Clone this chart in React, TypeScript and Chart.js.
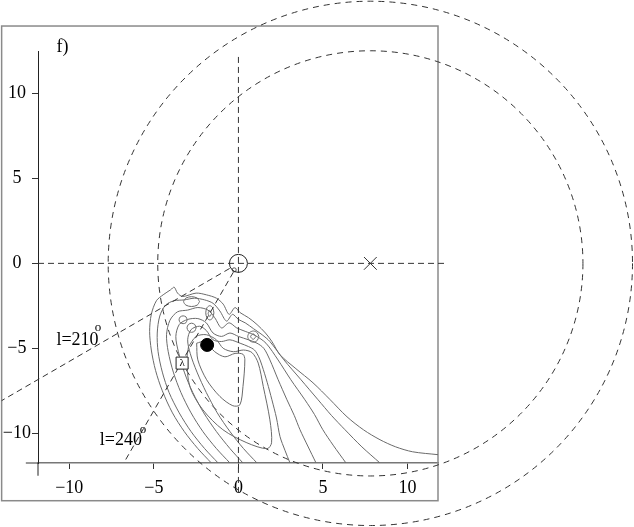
import React, { useEffect, useRef } from 'react';
import { Chart, registerables } from 'chart.js';
Chart.register(...registerables);

const FONT = '"Liberation Serif", "Times New Roman", serif';

const xTicks = [-10, -5, 0, 5, 10];
const yTicks = [-10, -5, 0, 5, 10];
const xRange = [-11.85, 11.8];
const yRange = [-11.75, 12.5];

// outer frame (data units)
const frameBox = { xMin: -14.0, xMax: 11.8, yMin: -13.97, yMax: 13.97 };
// axis line extensions
const xAxisLeftEnd = -12.57;
const yAxisBottomEnd = -12.5;

// dashed circles
const circleCenter = [7.8, 0];
const circleRadii = [15.5, 12.57];

// dashed guide lines
const hLine = [[-11.85, 0], [12.2, 0]];
const vLine = [[0, 12.15], [0, -13.6]];
const ray210 = [[-0.52, -0.3], [-14.0, -8.08]];
const ray240 = [[-0.3, -0.52], [-6.78, -11.75]];

// markers
const originPt = [[0, 0]];
const originInner = [[-0.25, -0.38]];
const dotPt = [[-1.85, -4.8]];
const lambdaPt = [[-3.33, -5.87]];
const crossPt = [[7.8, 0]];

// contours
const arch1 = [[-1.6,-11.75],[-2.4,-10.9],[-3.2,-9.9],[-3.9,-8.8],[-4.5,-7.5],[-4.9,-6.3],[-5.15,-5.1],[-5.25,-4.0],[-5.15,-3.0],[-4.85,-2.2],[-4.45,-1.85],[-4.0,-1.55],[-3.8,-1.4],[-3.6,-1.75],[-3.3,-1.95],[-2.5,-1.75],[-1.9,-1.85],[-1.3,-2.05],[-0.9,-2.4],[-0.55,-3.0],[-0.2,-2.6],[0.1,-2.9],[0.6,-3.2],[1.1,-3.6],[1.6,-4.1],[1.98,-4.6],[2.46,-5.38],[3.4,-6.2],[4.41,-7.03],[5.4,-8.0],[6.42,-9.03],[7.4,-9.8],[8.37,-10.38],[9.3,-10.8],[10.3,-11.09],[11.8,-11.26]];
const arch2 = [[-1.2,-11.75],[-2.0,-10.9],[-2.8,-9.9],[-3.5,-8.8],[-4.1,-7.6],[-4.5,-6.4],[-4.75,-5.2],[-4.8,-4.1],[-4.65,-3.1],[-4.3,-2.45],[-3.8,-2.2],[-3.2,-2.15],[-2.6,-2.05],[-2.0,-2.15],[-1.5,-2.35],[-1.1,-2.8],[-0.7,-3.4],[-0.35,-3.0],[0.0,-3.3],[0.4,-3.5],[0.9,-3.85],[1.4,-4.2],[1.86,-4.6],[2.69,-5.68],[3.7,-6.85],[4.71,-8.03],[5.5,-8.95],[6.3,-9.79],[7.3,-10.8],[8.37,-11.75]];
const arch3 = [[-0.5,-11.75],[-1.3,-10.9],[-2.1,-9.9],[-2.8,-8.8],[-3.4,-7.6],[-3.85,-6.4],[-4.15,-5.2],[-4.25,-4.2],[-4.05,-3.35],[-3.6,-2.85],[-3.0,-2.75],[-2.4,-2.6],[-1.8,-2.75],[-1.4,-3.2],[-1.0,-3.8],[-0.55,-3.5],[-0.1,-3.8],[0.4,-4.0],[1.0,-4.25],[1.63,-4.7],[2.34,-5.68],[3.1,-6.85],[3.93,-8.03],[4.5,-8.9],[4.99,-9.79],[5.6,-10.7],[6.36,-11.75]];
const arch4 = [[0.27,-11.75],[-0.5,-10.9],[-1.3,-9.9],[-2.05,-8.8],[-2.7,-7.6],[-3.2,-6.4],[-3.55,-5.2],[-3.7,-4.3],[-3.5,-3.6],[-3.0,-3.3],[-2.4,-3.25],[-1.9,-3.5],[-1.5,-4.1],[-1.0,-4.3],[-0.5,-4.1],[0.0,-4.3],[0.6,-4.5],[1.1,-4.7],[1.5,-5.0],[1.86,-5.68],[2.35,-6.85],[2.87,-8.03],[3.3,-8.95],[3.64,-9.79],[4.1,-10.75],[4.59,-11.75]];
const arch5 = [[1.1,-11.75],[0.3,-10.9],[-0.5,-9.9],[-1.25,-8.8],[-1.9,-7.6],[-2.45,-6.4],[-2.85,-5.3],[-3.0,-4.5],[-2.8,-3.9],[-2.3,-3.7],[-1.9,-3.95],[-1.5,-4.5],[-1.0,-4.6],[-0.5,-4.5],[0.1,-4.7],[0.6,-4.9],[0.95,-5.1],[1.2,-5.5],[1.39,-6.0],[1.7,-7.0],[1.98,-8.03],[2.25,-9.1],[2.46,-10.2],[2.75,-11.0],[3.05,-11.75]];
const loopB = [[-2.95,-4.9],[-3.05,-5.68],[-2.87,-7.26],[-2.1,-8.62],[-0.92,-9.79],[0.5,-10.56],[1.69,-10.91],[1.96,-10.56],[1.86,-9.21],[1.47,-7.25],[1.17,-5.87],[0.8,-5.25],[0.3,-5.1],[-0.3,-5.2],[-0.9,-5.0],[-1.3,-4.5],[-1.9,-4.2],[-2.5,-4.3],[-2.95,-4.9]];
const loopA = [[-2.47,-4.7],[-2.4,-5.68],[-1.88,-6.85],[-1.09,-7.84],[-0.33,-8.38],[0.09,-8.32],[0.27,-7.24],[0.38,-5.68],[0.27,-5.35],[-0.2,-5.3],[-0.8,-5.5],[-1.4,-5.2],[-2.0,-4.6],[-2.47,-4.7]];
const loop1 = [[-2.30,-2.25],[-2.44,-2.04],[-2.77,-1.96],[-3.10,-2.04],[-3.24,-2.25],[-3.10,-2.46],[-2.77,-2.54],[-2.44,-2.46],[-2.30,-2.25]];
const loop2 = [[-1.45,-2.91],[-1.52,-2.61],[-1.69,-2.49],[-1.86,-2.61],[-1.93,-2.91],[-1.86,-3.21],[-1.69,-3.33],[-1.52,-3.21],[-1.45,-2.91]];
const loop2b = [[-1.59,-2.95],[-1.69,-2.77],[-1.79,-2.95],[-1.69,-3.13],[-1.59,-2.95]];
const loop3 = [[-3.03,-3.32],[-3.10,-3.15],[-3.27,-3.09],[-3.44,-3.15],[-3.51,-3.32],[-3.44,-3.49],[-3.27,-3.55],[-3.10,-3.49],[-3.03,-3.32]];
const loop4 = [[-2.50,-3.79],[-2.58,-3.6],[-2.77,-3.52],[-2.96,-3.6],[-3.04,-3.79],[-2.96,-3.98],[-2.77,-4.06],[-2.58,-3.98],[-2.50,-3.79]];
const loop5 = [[1.21,-4.31],[1.11,-4.08],[0.88,-3.98],[0.65,-4.08],[0.55,-4.31],[0.65,-4.54],[0.88,-4.64],[1.11,-4.54],[1.21,-4.31]];
const loop5b = [[1.04,-4.31],[0.88,-4.15],[0.72,-4.31],[0.88,-4.47],[1.04,-4.31]];

const contours = [arch1, arch2, arch3, arch4, arch5, loopB, loopA, loop1, loop2, loop2b, loop3, loop4, loop5, loop5b];

// text labels
const textLabels = [
  { text: 'f)', x: -10.76, y: 12.45, size: 18 },
  { text: 'l=210', x: -10.76, y: -4.79, size: 18 },
  { text: 'o', x: -8.49, y: -4.01, size: 13 },
  { text: 'l=240', x: -8.2, y: -10.68, size: 18 },
  { text: 'o', x: -5.83, y: -9.97, size: 13 },
];
const lambdaText = { text: 'λ', x: -3.33, y: -5.87, size: 11 };

const toXY = (pts: number[][]) => pts.map(([x, y]) => ({ x, y }));
const fmt = (v: number) => (v < 0 ? '\u2212' + Math.abs(v) : String(v));

const decor = {
  id: 'decor',
  beforeDatasetsDraw(chart: any) {
    const { ctx } = chart;
    const xs = chart.scales.x, ys = chart.scales.y;
    ctx.save();
    ctx.strokeStyle = '#8a8a8a';
    ctx.lineWidth = 1.5;
    const fx0 = xs.getPixelForValue(frameBox.xMin), fx1 = xs.getPixelForValue(frameBox.xMax);
    const fy0 = ys.getPixelForValue(frameBox.yMax), fy1 = ys.getPixelForValue(frameBox.yMin);
    ctx.strokeRect(fx0, fy0, fx1 - fx0, fy1 - fy0);
    ctx.strokeStyle = '#777';
    ctx.lineWidth = 1.5;
    ctx.beginPath();
    ctx.moveTo(xs.getPixelForValue(xAxisLeftEnd), ys.bottom);
    ctx.lineTo(xs.left, ys.bottom);
    ctx.stroke();
    ctx.strokeStyle = '#222';
    ctx.lineWidth = 1;
    ctx.beginPath();
    ctx.moveTo(xs.left, ys.bottom);
    ctx.lineTo(xs.left, ys.getPixelForValue(yAxisBottomEnd));
    ctx.stroke();
    const cx = xs.getPixelForValue(circleCenter[0]);
    const cy = ys.getPixelForValue(circleCenter[1]);
    ctx.strokeStyle = '#333';
    ctx.lineWidth = 1;
    ctx.setLineDash([6, 5]);
    circleRadii.forEach((r) => {
      const rp = xs.getPixelForValue(circleCenter[0] + r) - cx;
      ctx.beginPath();
      ctx.arc(cx, cy, rp, 0, Math.PI * 2);
      ctx.stroke();
    });
    ctx.restore();
  },
  afterDatasetsDraw(chart: any) {
    const { ctx } = chart;
    const xs = chart.scales.x, ys = chart.scales.y;
    ctx.save();
    ctx.fillStyle = '#000';
    ctx.textBaseline = 'alphabetic';
    ctx.textAlign = 'left';
    textLabels.forEach((l) => {
      ctx.font = `${l.size}px ${FONT}`;
      ctx.fillText(l.text, xs.getPixelForValue(l.x), ys.getPixelForValue(l.y));
    });
    ctx.font = `${lambdaText.size}px ${FONT}`;
    ctx.textAlign = 'center';
    ctx.textBaseline = 'middle';
    ctx.fillText(lambdaText.text, xs.getPixelForValue(lambdaText.x), ys.getPixelForValue(lambdaText.y));
    ctx.restore();
  },
};

export default function App() {
  const ref = useRef<HTMLCanvasElement>(null);
  useEffect(() => {
    document.body.style.margin = '0';
    const canvas = ref.current!;
    const dashed = (pts: number[][]) => ({
      data: toXY(pts), showLine: true, pointRadius: 0, borderColor: '#333', borderWidth: 1,
      borderDash: [6, 4], clip: false as any, tension: 0,
    });
    const datasets: any[] = [
      { data: toXY(dotPt), pointRadius: 6.5, pointBackgroundColor: '#000', pointBorderColor: '#000', pointStyle: 'circle' },
      { data: toXY(lambdaPt), pointRadius: 8.5, pointBackgroundColor: '#fff', pointBorderColor: '#222', pointBorderWidth: 1, pointStyle: 'rect' },
      { data: toXY(originPt), pointRadius: 9, pointBackgroundColor: 'rgba(0,0,0,0)', pointBorderColor: '#222', pointBorderWidth: 1, pointStyle: 'circle' },
      { data: toXY(originInner), pointRadius: 2, pointBackgroundColor: 'rgba(0,0,0,0)', pointBorderColor: '#555', pointBorderWidth: 1, pointStyle: 'circle' },
      { data: toXY(crossPt), pointRadius: 9, pointBorderColor: '#333', pointBorderWidth: 1, pointStyle: 'crossRot' },
      dashed(hLine), dashed(vLine), dashed(ray210), dashed(ray240),
      ...contours.map((c) => ({
        data: toXY(c), showLine: true, pointRadius: 0, borderColor: '#6a6a6a', borderWidth: 1, tension: 0.3,
      })),
    ];
    const axisCommon = (ticks: number[]) => ({
      type: 'linear' as const,
      afterBuildTicks: (s: any) => { s.ticks = ticks.map((v) => ({ value: v })); },
      grid: { display: true, drawOnChartArea: false, drawTicks: true, tickLength: 6, color: '#333', lineWidth: 1 },
      ticks: { color: '#000', font: { family: FONT, size: 18 }, callback: (v: any) => fmt(Number(v)) },
    });
    const chart = new Chart(canvas, {
      type: 'scatter',
      data: { datasets },
      options: {
        animation: false,
        responsive: false,
        devicePixelRatio: 1,
        events: [],
        layout: { padding: { left: 0, top: 51, right: 196, bottom: 0 } },
        plugins: { legend: { display: false }, tooltip: { enabled: false }, title: { display: false } },
        scales: {
          x: {
            ...axisCommon(xTicks), min: xRange[0], max: xRange[1], position: 'bottom',
            border: { display: true, color: '#777', width: 1.5 },
            ticks: { ...axisCommon(xTicks).ticks, padding: 8, maxRotation: 0, autoSkip: false },
            afterFit: (s: any) => { s.height = 64; },
          },
          y: {
            ...axisCommon(yTicks), min: yRange[0], max: yRange[1], position: 'left',
            border: { display: true, color: '#222', width: 1 },
            ticks: { ...axisCommon(yTicks).ticks, padding: 1, crossAlign: 'center', autoSkip: false },
            afterFit: (s: any) => { s.width = 38; },
          },
        },
      } as any,
      plugins: [decor],
    });
    return () => chart.destroy();
  }, []);
  return (
    <div style={{ width: 634, height: 527 }}>
      <canvas ref={ref} width={634} height={527} style={{ display: 'block', width: 634, height: 527 }} />
    </div>
  );
}
